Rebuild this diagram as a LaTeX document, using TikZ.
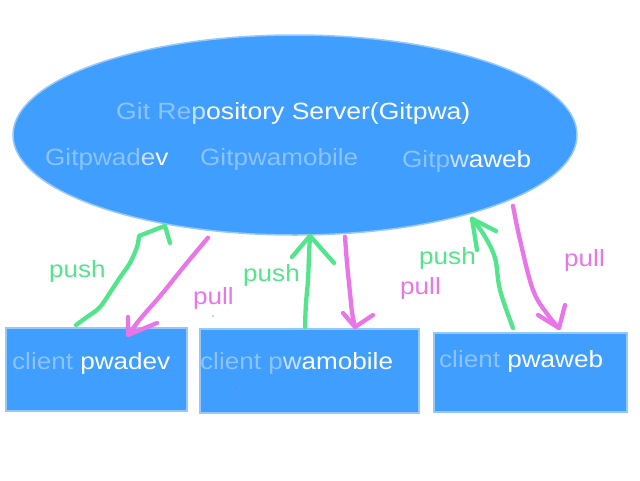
\documentclass[tikz,border=0pt]{standalone}
\usepackage{fontspec}
\setmainfont[FakeStretch=1.11]{Liberation Sans}
\newfontfamily\titlefont[FakeStretch=1.13]{Liberation Sans}
\usetikzlibrary{shapes.geometric,calc}
\definecolor{blueF}{RGB}{64,158,255}
\definecolor{edgeB}{RGB}{150,200,250}
\definecolor{lightT}{RGB}{140,195,255}
\definecolor{midT}{RGB}{200,225,255}
\definecolor{pushG}{RGB}{82,229,140}
\definecolor{pullP}{RGB}{232,118,232}
\definecolor{speckB}{RGB}{100,140,230}
\begin{document}
\begin{tikzpicture}[x=1pt,y=-1pt,
  txt/.style={font=\fontsize{23.5}{28}\selectfont, inner sep=0pt, anchor=base west, text=white},
  box/.style={rectangle, fill=blueF, draw=edgeB, line width=1.5pt, inner sep=0pt, anchor=north west},
  pushA/.style={draw=pushG, line width=4.3pt, line cap=round, line join=round},
  pullA/.style={draw=pullP, line width=4.3pt, line cap=round, line join=round},
  pushL/.style={txt, text=pushG},
  pullL/.style={txt, text=pullP}]
\useasboundingbox (0,0) rectangle (640,480);
\fill[white] (0,0) rectangle (640,480);

% server
\node[ellipse, fill=blueF, draw=edgeB, line width=1.5pt, minimum width=564pt, minimum height=200pt, inner sep=0pt] (srv) at (295,135) {};
\node[txt, font=\titlefont\fontsize{23.5}{28}\selectfont] (t0) at (116,119) {{\color{lightT}Git Re}{\color{midT}p}ository Server(Gitpwa)};
\node[txt] (t1) at (45,165) {{\color{lightT}Gitpwad}{\color{midT}e}v};
\node[txt] (t2) at (200,165) {{\color{lightT}Gitpwamobile}};
\node[txt] (t3) at (402,167) {{\color{lightT}Gitp}{\color{midT}w}aweb};

% clients
\node[box, minimum width=181pt, minimum height=83pt] (c1) at (5,327) {};
\node[box, minimum width=219pt, minimum height=84pt] (c2) at (199,328) {};
\node[box, minimum width=193pt, minimum height=79pt] (c3) at (433,332) {};
\node[txt] (ct1) at (12,369) {{\color{lightT}client }pwadev};
\node[txt] (ct2) at (200,369) {{\color{lightT}client p}{\color{midT}w}amobile};
\node[txt] (ct3) at (439,367) {{\color{lightT}client }pwaweb};

% end points
\coordinate (g1a) at ([xshift=71pt,yshift=2pt]c1.north west);
\coordinate (g1b) at ([xshift=-130pt,yshift=10pt]srv.south);
\coordinate (p1a) at ([xshift=-87pt,yshift=-2pt]srv.south);
\coordinate (p1b) at ([xshift=123pt,yshift=-8pt]c1.north west);
\coordinate (g2a) at ([xshift=106pt,yshift=1pt]c2.north west);
\coordinate (g2b) at ([xshift=15pt]srv.south);
\coordinate (p2a) at ([xshift=50pt,yshift=-1pt]srv.south);
\coordinate (p2b) at ([xshift=156pt,yshift=1pt]c2.north west);
\coordinate (g3a) at ([xshift=80pt,yshift=4pt]c3.north west);
\coordinate (g3b) at ([xshift=177pt,yshift=17pt]srv.south);
\coordinate (p3a) at ([xshift=218pt,yshift=30pt]srv.south);
\coordinate (p3b) at ([xshift=126pt,yshift=4pt]c3.north west);

% arrows
\draw[pushA] plot[smooth, tension=0.55] coordinates {(g1a) (87,317) (100,307) (113,288) (121,276) (130,263) (137,247) (139,236)} -- (g1b) -- (170,243);
\draw[pullA] plot[smooth, tension=0.6] coordinates {(p1a) (186,264) (161,295) (141,318) (p1b)};
\draw[pullA] (128,317) -- (p1b) -- (157,323);

\draw[pushA] plot[smooth, tension=0.6] coordinates {(g2a) (306,303) (308,280) (309,255) (g2b)};
\draw[pushA] (292,257) -- (g2b) -- (334,263);
\draw[pullA] plot[smooth, tension=0.6] coordinates {(p2a) (347,263) (350,293) (352,312) (p2b)};
\draw[pullA] (343,313) -- (p2b) -- (373,315);

\draw[pushA] plot[smooth, tension=0.6] coordinates {(g3a) (500,290) (495,258) (484,235) (g3b)};
\draw[pushA] (477,250) -- (g3b) -- (496,231);
\draw[pullA] plot[smooth, tension=0.6] coordinates {(p3a) (520,240) (533,290) (548,315) (p3b)};
\draw[pullA] (538,315) -- (p3b) -- (565,305);

% labels
\node[pushL] (l1) at (49,277) {push};
\node[pullL] (l2) at (193,304) {pull};
\node[pushL] (l3) at (243,281) {push};
\node[pullL] (l4) at (400,294) {pull};
\node[pushL] (l5) at (419,264) {push};
\node[pullL] (l6) at (564,266) {pull};

% specks
\fill[lightT] (213,316) circle (1);
\fill[speckB] (236,388) circle (1.5);
\end{tikzpicture}
\end{document}
